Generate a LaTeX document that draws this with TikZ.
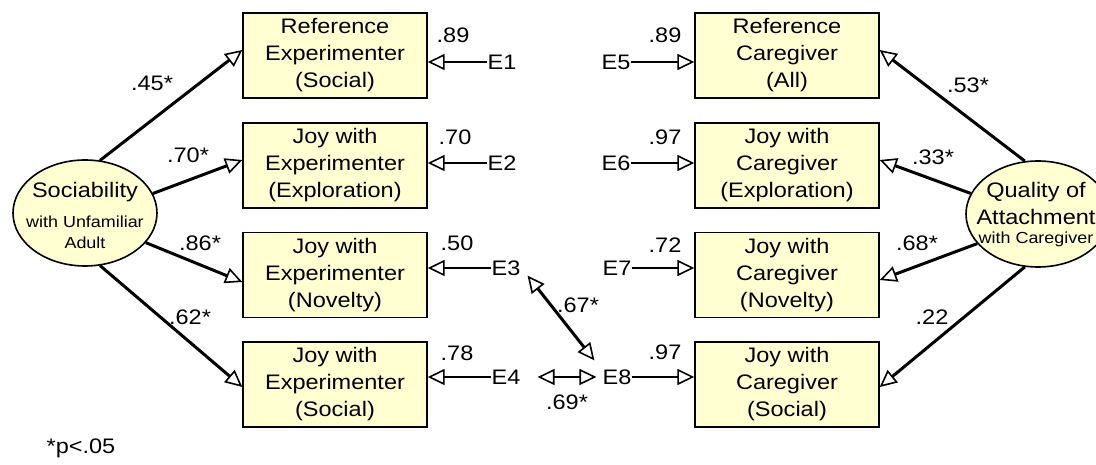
\documentclass[tikz,border=0pt]{standalone}
\usepackage{fontspec}
\setmainfont{Liberation Sans}[FakeStretch=1.12]
\usetikzlibrary{arrows.meta,shapes.geometric,calc}
\definecolor{boxfill}{RGB}{255,255,210}
\begin{document}
\begin{tikzpicture}[x=1pt,y=-1pt,
  font=\fontsize{21}{27}\selectfont,
  obs/.style={draw=black,line width=1.4pt,fill=boxfill,minimum width=184pt,minimum height=85pt,inner sep=0pt,align=center},
  lat/.style={draw=black,line width=1.6pt,fill=boxfill,ellipse,minimum width=144pt,minimum height=106pt,inner sep=0pt},
  err/.style={inner sep=0pt},
  lbl/.style={inner sep=0pt},
  small/.style={inner sep=0pt,anchor=base,font=\fontsize{16}{20}\selectfont},
  big/.style={inner sep=0pt,anchor=base},
  pth/.style={line width=3pt,-{Triangle[length=17pt,width=16pt,fill=white,line width=1.6pt]}},
  errarr/.style={line width=2.6pt,-{Triangle[length=17pt,width=16pt,fill=white,line width=1.6pt]}},
  cov/.style={line width=3pt,{Triangle[length=17pt,width=16pt,fill=white,line width=1.6pt]}-{Triangle[length=17pt,width=16pt,fill=white,line width=1.6pt]}},
  covthin/.style={line width=2.6pt,{Triangle[length=17pt,width=16pt,fill=white,line width=1.6pt]}-{Triangle[length=17pt,width=16pt,fill=white,line width=1.6pt]}}
]
\useasboundingbox (0,0) rectangle (1096,465);

% observed boxes, left
\node[obs] (b1) at (335,55.5) {Reference\\Experimenter\\(Social)};
\node[obs] (b2) at (335,165.5) {Joy with\\Experimenter\\(Exploration)};
\node[obs] (b3) at (335,275) {Joy with\\Experimenter\\(Novelty)};
\node[obs] (b4) at (335,384.5) {Joy with\\Experimenter\\(Social)};
% observed boxes, right
\node[obs] (r1) at (787,55.5) {Reference\\Caregiver\\(All)};
\node[obs] (r2) at (787,165.5) {Joy with\\Caregiver\\(Exploration)};
\node[obs] (r3) at (787,275) {Joy with\\Caregiver\\(Novelty)};
\node[obs] (r4) at (787,384.5) {Joy with\\Caregiver\\(Social)};

% latent ellipses
\node[lat] (L) at (85,213) {};
\node[big] (Lt1) at (85,197.5) {Sociability};
\node[small] (Lt2) at (85,228) {with Unfamiliar};
\node[small] (Lt3) at (85,249) {Adult};

\node[lat] (R) at (1038,214) {};
\node[big] (Rt1) at (1036,197.5) {Quality of};
\node[big] (Rt2) at (1036,224.5) {Attachment};
\node[small] (Rt3) at (1036,244) {with Caregiver};

% loadings left
\draw[pth] (L.74) -- (b1.west |- 0,50);
\draw[pth] (L.16) -- (b2.west |- 0,160);
\draw[pth] (L.-26) -- (b3.west |- 0,282);
\draw[pth] (L.-74) -- (b4.west |- 0,387);
\node[lbl] (l1) at (152,83) {.45*};
\node[lbl] (l2) at (188,155) {.70*};
\node[lbl] (l3) at (200,243) {.86*};
\node[lbl] (l4) at (190,317) {.62*};

% loadings right
\draw[pth] (R.104) -- (r1.east |- 0,50);
\draw[pth] (R.163) -- (r2.east |- 0,160);
\draw[pth] (R.206) -- (r3.east |- 0,280);
\draw[pth] (R.256) -- (r4.east |- 0,387);
\node[lbl] (m1) at (968,85) {.53*};
\node[lbl] (m2) at (933,157) {.33*};
\node[lbl] (m3) at (917,243) {.68*};
\node[lbl] (m4) at (932,317) {.22};

% errors left
\node[err] (E1) at (502,62) {E1};
\node[err] (E2) at (502,163) {E2};
\node[err] (E3) at (506,268) {E3};
\node[err] (E4) at (506,377) {E4};
\draw[errarr] (E1.west) -- (b1.east |- E1.west);
\draw[errarr] (E2.west) -- (b2.east |- E2.west);
\draw[errarr] (E3.west) -- (b3.east |- E3.west);
\draw[errarr] (E4.west) -- (b4.east |- E4.west);
\node[lbl] (e1) at (453,35) {.89};
\node[lbl] (e2) at (455,137) {.70};
\node[lbl] (e3) at (457,243) {.50};
\node[lbl] (e4) at (457,353) {.78};

% errors right
\node[err] (E5) at (616,62) {E5};
\node[err] (E6) at (616,163) {E6};
\node[err] (E7) at (617,268) {E7};
\node[err] (E8) at (617,377) {E8};
\draw[errarr] (E5.east) -- (r1.west |- E5.east);
\draw[errarr] (E6.east) -- (r2.west |- E6.east);
\draw[errarr] (E7.east) -- (r3.west |- E7.east);
\draw[errarr] (E8.east) -- (r4.west |- E8.east);
\node[lbl] (e5) at (665,35) {.89};
\node[lbl] (e6) at (665,137) {.97};
\node[lbl] (e7) at (665,245) {.72};
\node[lbl] (e8) at (665,352) {.97};

% covariances
\draw[cov] ([xshift=7pt]E3.south east) -- ([xshift=-8pt,yshift=9pt]E8.north west);
\node[lbl] (c1) at (578,305) {.67*};
\draw[covthin] ([xshift=17pt]E4.east) -- ([xshift=-6pt]E8.west);
\node[lbl] (c2) at (567,402) {.69*};

\node[lbl] (note) at (81,448) {*p<.05};
\end{tikzpicture}
\end{document}
